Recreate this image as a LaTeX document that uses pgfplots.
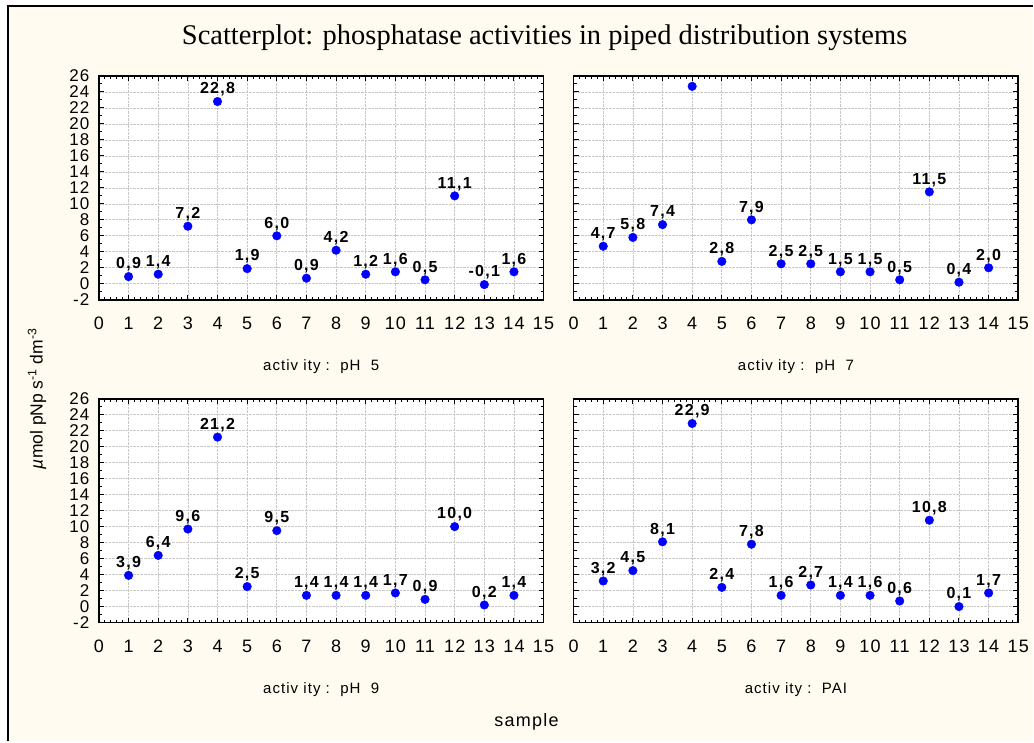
\documentclass[border=0pt]{standalone}
\usepackage{pgfplots}
\pgfplotsset{compat=1.18}
\usepackage{pgfplotstable}
\usepackage{fontspec}
\setmainfont{Liberation Sans}
\newfontfamily\seriffont{Liberation Serif}
\newfontfamily\spacedfont[LetterSpace=7]{Liberation Sans}
\newfontfamily\spacedbold[LetterSpace=8]{Liberation Sans Bold}
\definecolor{cream}{HTML}{FFFBF0}
\definecolor{ptblue}{RGB}{0,0,255}

\pgfplotstableread{
x y lab
1 0.9 0,9
2 1.2 1,4
3 7.2 7,2
4 22.8 22,8
5 1.9 1,9
6 6.0 6,0
7 0.7 0,9
8 4.2 4,2
9 1.2 1,2
10 1.5 1,6
11 0.5 0,5
12 11.0 11,1
13 -0.1 -0,1
14 1.5 1,6
}\phfive
\pgfplotstableread{
x y lab
1 4.7 4,7
2 5.8 5,8
3 7.4 7,4
4 24.7 {}
5 2.8 2,8
6 8.0 7,9
7 2.5 2,5
8 2.5 2,5
9 1.5 1,5
10 1.5 1,5
11 0.5 0,5
12 11.5 11,5
13 0.2 0,4
14 2.0 2,0
}\phseven
\pgfplotstableread{
x y lab
1 3.9 3,9
2 6.4 6,4
3 9.7 9,6
4 21.2 21,2
5 2.5 2,5
6 9.5 9,5
7 1.4 1,4
8 1.4 1,4
9 1.4 1,4
10 1.7 1,7
11 0.9 0,9
12 10.0 10,0
13 0.2 0,2
14 1.4 1,4
}\phnine
\pgfplotstableread{
x y lab
1 3.2 3,2
2 4.5 4,5
3 8.1 8,1
4 22.9 22,9
5 2.4 2,4
6 7.8 7,8
7 1.4 1,6
8 2.7 2,7
9 1.4 1,4
10 1.4 1,6
11 0.7 0,6
12 10.8 10,8
13 0.0 0,1
14 1.7 1,7
}\pai

\pgfplotsset{
  panel/.style={
    anchor=south west, scale only axis, width=445pt, height=224pt,
    xmin=0, xmax=15, ymin=-2, ymax=26,
    xtick={0,...,15}, ytick={-2,0,...,26},
    minor x tick num=4, minor y tick num=1,
    tick align=inside, major tick length=5pt, minor tick length=3pt,
    tick style={black, line width=1pt},
    grid=major, major grid style={densely dotted, black!22, line width=0.7pt},
    axis line style={line width=1.6pt},
    axis background/.style={fill=white},
    /pgf/number format/assume math mode=true,
    xticklabel style={font=\spacedfont\fontsize{18}{18}\selectfont, inner ysep=0pt, yshift=-17pt},
    yticklabel style={font=\spacedfont\fontsize{17}{17}\selectfont, inner ysep=0pt, xshift=-6pt},
    xlabel style={at={(axis description cs:0.5,0)}, anchor=center, yshift=-67pt, font=\spacedfont\fontsize{15}{15}\selectfont},
    point meta=explicit symbolic,
    nodes near coords,
    nodes near coords style={font=\spacedbold\fontsize{16}{16}\selectfont, anchor=south, inner xsep=0.5pt, inner ysep=1pt, yshift=4pt},
  },
  dots/.style={only marks, mark=*, mark size=4.3pt, mark options={fill=ptblue, draw=ptblue}},
}

\begin{document}
\begin{tikzpicture}[x=1pt,y=1pt]
\fill[white] (0,0) rectangle (1034,742);
\fill[cream] (8,0) rectangle (1034,736);
\draw[line width=1.5pt] (8,0) -- (8,736) -- (1034,736);

\node[font=\seriffont\fontsize{28.5}{28.5}\selectfont] at (545,704) {Scatterplot: phosphatase activities in piped distribution systems};
\node[font=\spacedfont\fontsize{18}{18}\selectfont] at (527,20) {sample};
\node[font=\fontsize{17.5}{17.5}\selectfont, rotate=90] at (37,343) {\textit{µ}mol pNp s\textsuperscript{-1} dm\textsuperscript{-3}};

\begin{axis}[panel, at={(99pt,442pt)}, xlabel={activ ity :\ \ pH\ \ 5}]
\addplot[dots] table[x=x,y=y,meta=lab] {\phfive};
\end{axis}
\begin{axis}[panel, at={(574pt,442pt)}, yticklabels={}, xlabel={activ ity :\ \ pH\ \ 7}]
\addplot[dots] table[x=x,y=y,meta=lab] {\phseven};
\end{axis}
\begin{axis}[panel, at={(99pt,119pt)}, xlabel={activ ity :\ \ pH\ \ 9}]
\addplot[dots] table[x=x,y=y,meta=lab] {\phnine};
\end{axis}
\begin{axis}[panel, at={(574pt,119pt)}, yticklabels={}, xlabel={activ ity :\ \ PAI}]
\addplot[dots] table[x=x,y=y,meta=lab] {\pai};
\end{axis}
\end{tikzpicture}
\end{document}
